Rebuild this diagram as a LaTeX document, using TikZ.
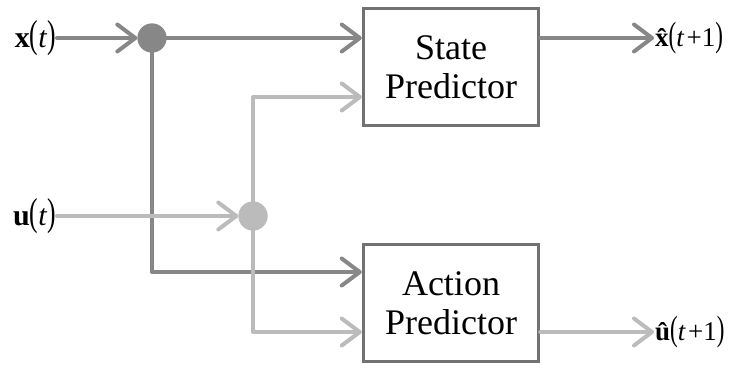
\documentclass[tikz,border=0pt]{standalone}
\usepackage{fontspec}
\setmainfont{Liberation Serif}
\usetikzlibrary{arrows.meta,calc}
\definecolor{boxline}{HTML}{727272}
\definecolor{darkline}{HTML}{878787}
\definecolor{lightline}{HTML}{BBBBBB}
% signal label: bold symbol, tall parentheses, italic argument
\newcommand{\tallparen}[1]{\scalebox{0.85}[1.3]{#1}}
\newcommand{\sigl}[2]{#1\tallparen{(}#2\tallparen{)}}
% bold letter with a circumflex centred over it
\newcommand{\hatbold}[1]{\leavevmode\ooalign{\textbf{#1}\cr\hidewidth\raisebox{-0.05em}{\textbf{\char"02C6}}\hidewidth\cr}}
\begin{document}
\begin{tikzpicture}[x=1pt,y=1pt,
  block/.style={draw=boxline,line width=3.5pt,fill=white,minimum width=175pt,minimum height=117pt,
    align=center,font=\fontsize{36}{39}\selectfont,inner sep=0pt},
  joint/.style={circle,inner sep=0pt,minimum size=29pt},
  sig/.style={font=\fontsize{30}{34}\selectfont,inner sep=1pt},
  sigout/.style={font=\fontsize{27}{30}\selectfont,inner sep=1pt},
  wire/.style={line width=4pt,line cap=round,line join=round},
  tip/.style={-{Straight Barb[length=18pt,width=27pt,line cap=round,line join=round]}},
  dk/.style={wire,draw=darkline},
  lt/.style={wire,draw=lightline}]
\useasboundingbox (0,0) rectangle (734,-367);

% predictor blocks
\node[block] (sp) at (451,-67) {State\\Predictor};
\node[block] (ap) at (451,-303) {Action\\Predictor};

% branch points
\node[joint,fill=darkline] (dc) at (152,-38) {};
\node[joint,fill=lightline] (lc) at (253,-216) {};

% inputs and outputs
\node[sig,anchor=east] (xin) at (57,-38) {\sigl{\textbf{x}}{\textit{t}}};
\node[sig,anchor=east] (uin) at (57,-216) {\sigl{\textbf{u}}{\textit{t}}};
\node[sigout,anchor=west] (xout) at (654,-38) {\sigl{\hatbold{x}}{\textit{t}\hspace{0.08em}+1}};
\node[sigout,anchor=west] (uout) at (654,-332) {\sigl{\hatbold{u}}{\textit{t}\hspace{0.08em}+1}};

% entry points on the block sides
\coordinate (s1) at (sp.west |- dc);
\coordinate (s2) at ($(sp.west)+(0,-30)$);
\coordinate (a1) at ($(ap.west)+(0,31)$);
\coordinate (a2) at ($(ap.west)+(0,-29)$);
\coordinate (xo) at (sp.east |- dc);
\coordinate (uo) at (ap.east |- a2);

% state signal wires
\draw[dk,tip] (xin.east) -- (dc.west);
\draw[dk,tip] (dc.east) -- (s1);
\draw[dk,tip] (dc.south) |- (a1);
\draw[dk,tip] (xo) -- (xout.west);

% action signal wires
\draw[lt,tip] (uin.east) -- (lc.west);
\draw[lt,tip] (lc.north) |- (s2);
\draw[lt,tip] (lc.south) |- (a2);
\draw[lt,tip] (uo) -- (uout.west);

% redraw joints above the wires
\node[joint,fill=darkline] at (dc) {};
\node[joint,fill=lightline] at (lc) {};
\end{tikzpicture}
\end{document}
